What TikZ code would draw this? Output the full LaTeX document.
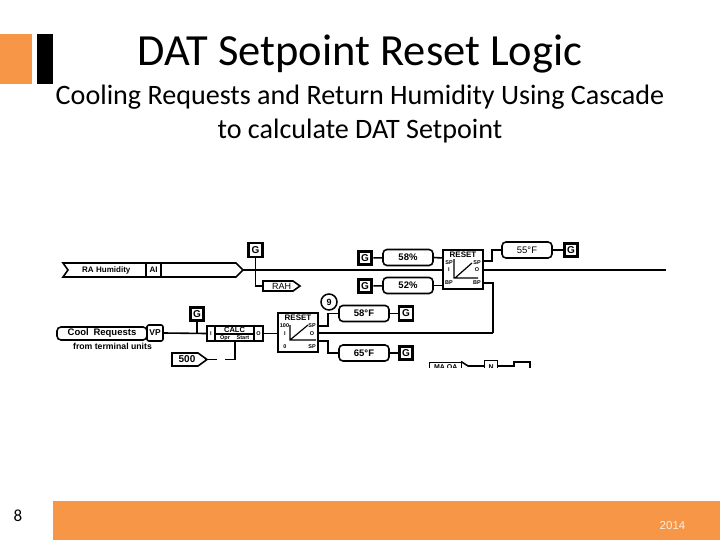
\documentclass[tikz,border=0pt]{standalone}
\usepackage{fontspec}
\setmainfont{Carlito}
\newfontfamily\diag{Liberation Sans}
\definecolor{accent}{HTML}{F79646}
\tikzset{
  x=1pt,y=-1pt,
  wire/.style={line width=1.6pt,black},
  heavy/.style={line width=2.2pt,black},
  tiny/.style={font=\diag\bfseries\fontsize{5.5}{5.5}\selectfont,inner sep=0pt},
  pill/.style={draw,line width=1.6pt,rounded corners=4pt,fill=white,minimum width=50pt,minimum height=16pt,inner sep=0pt,font=\diag\bfseries\fontsize{9.5}{10}\selectfont},
  gbox/.style={draw,line width=2.4pt,fill=white,minimum size=14pt,inner sep=0pt,font=\diag\bfseries\fontsize{10}{10}\selectfont},
  gdark/.style={gbox,line width=3.2pt,minimum size=13.5pt},
  tag/.style={draw,line width=1.6pt,fill=white,inner sep=0pt,font=\diag\bfseries\fontsize{8}{8}\selectfont},
  anchorbox/.style={inner sep=0pt,font=\diag\fontsize{9}{9}\selectfont},
  block/.style={draw,line width=2.2pt,fill=white,inner sep=0pt},
}
\begin{document}
\begin{tikzpicture}
\useasboundingbox (0,0) rectangle (720,540);
\fill[white] (0,0) rectangle (720,540);
% slide furniture
\fill[accent] (0,34) rectangle (32,84);
\fill[black] (37,34) rectangle (53,84);
\fill[accent] (53,501) rectangle (720,540);
\node[font=\fontsize{44.5}{46}\selectfont,inner sep=0pt] (title) at (360,54.5) {DAT Setpoint Reset Logic};
\node[font=\fontsize{28.1}{34}\selectfont,align=center,inner sep=0pt] (subtitle) at (360,114) {Cooling Requests and Return Humidity Using Cascade\\to calculate DAT Setpoint};
\node[font=\fontsize{17}{17}\selectfont,inner sep=0pt] (pageno) at (18,516) {8};
\node[font=\diag\fontsize{11.5}{12}\selectfont,text=white!85!accent,inner sep=0pt] (year) at (672.5,526) {2014};

% pentagon shapes
\draw[wire,fill=white] (63,263) -- (236,263) -- (243,270) -- (236,277) -- (63,277) -- (68,270) -- cycle;
\draw[wire,fill=white] (263,281) -- (293,281) -- (300,286) -- (293,291) -- (263,291) -- cycle;
\draw[wire,fill=white] (172,353) -- (198,353) -- (207,359.5) -- (198,366) -- (172,366) -- cycle;
\node[anchorbox,minimum width=180pt,minimum height=14pt,font=\diag\bfseries\fontsize{8}{8}\selectfont,text width=180pt] (ra) at (153,270) {\hspace{19pt}RA Humidity};
\node[anchorbox,minimum width=37pt,minimum height=10pt] (rah) at (281.5,286) {RAH};
\node[anchorbox,minimum width=35pt,minimum height=13pt,font=\diag\bfseries\fontsize{10}{8}\selectfont] (fivehundred) at (187,359.5) {\makebox[26pt]{500}\hspace{9pt}};

% cool requests
\node[draw,line width=1.6pt,rounded corners=4pt,fill=white,minimum width=90pt,minimum height=13pt,inner sep=0pt,font=\diag\bfseries\fontsize{9.5}{10}\selectfont] (cool) at (102,333.5) {Cool\enspace Requests};
\node[font=\diag\bfseries\fontsize{8.7}{9}\selectfont,inner sep=0pt] (terminal) at (112.5,346) {from terminal units};
\node[tag,minimum width=15pt,minimum height=14pt] (ai) at (153.5,270) {AI};
\node[tag,rounded corners=2pt,minimum width=16pt,minimum height=16pt,font=\diag\bfseries\fontsize{8.5}{8}\selectfont] (vp) at (155,333) {VP};

% G boxes
\node[gbox] (g1) at (255.5,250) {G};
\node[gdark] (g2) at (197,314) {G};
\node[gdark] (g3) at (365,258) {G};
\node[gdark] (g4) at (365,286) {G};
\node[gbox] (g5) at (406,313.5) {G};
\node[gdark] (g6) at (406,353) {G};
\node[gdark] (g7) at (571,250) {G};

% value pills
\node[pill] (p58) at (408,257.5) {58\%};
\node[pill] (p52) at (408,285.5) {52\%};
\node[pill] (f58) at (364,313.5) {58°F};
\node[pill] (f65) at (364,353) {65°F};
\node[pill,font=\diag\fontsize{9.5}{10}\selectfont] (f55) at (527,250) {55°F};
\node[draw,line width=1.5pt,circle,minimum size=16pt,inner sep=0pt,fill=white,font=\diag\bfseries\fontsize{9}{9}\selectfont] (nine) at (329,302) {9};

% CALC block
\node[block,minimum width=56pt,minimum height=15pt] (calc) at (235,333.5) {};
\draw[line width=1.4pt] (215,326) -- (215,341) (254,326) -- (254,341) (215,334) -- (254,334);
\node[tiny,font=\diag\bfseries\fontsize{7.5}{7}\selectfont] (calct) at (234.5,330) {CALC};
\node[tiny] (calco) at (225,338) {Opr};
\node[tiny] (calcs) at (243,338) {Start};
\node[tiny] (calci) at (211,334) {I};
\node[tiny] (calcq) at (258.5,333.5) {O};

% first RESET block
\node[block,minimum width=40pt,minimum height=39pt] (reset1) at (298,332.5) {};
\node[tiny,font=\diag\bfseries\fontsize{8}{8}\selectfont] (r1t) at (298,318) {RESET};
\draw[line width=1.2pt] (290,325) -- (290,340) -- (316,340) (290,340) -- (308,325);
\node[tiny] (r1a) at (284.5,326) {100};
\node[tiny] (r1b) at (285,333.5) {I};
\node[tiny] (r1c) at (285,347) {0};
\node[tiny] (r1d) at (312,326) {SP};
\node[tiny] (r1e) at (312,333.5) {O};
\node[tiny] (r1f) at (312,347) {SP};

% second RESET block
\node[block,minimum width=40pt,minimum height=39pt] (reset2) at (463,269.5) {};
\node[tiny,font=\diag\bfseries\fontsize{8}{8}\selectfont] (r2t) at (463,254.5) {RESET};
\draw[line width=1.2pt] (454,259) -- (454,278) -- (478,278) (455,278) -- (472,263);
\node[tiny] (r2a) at (449,262.5) {SP};
\node[tiny] (r2b) at (449,270) {I};
\node[tiny] (r2c) at (449,283) {BP};
\node[tiny] (r2d) at (477,262.5) {SP};
\node[tiny] (r2e) at (477,270) {O};
\node[tiny] (r2f) at (477,283) {BP};

% port coordinates
\coordinate (r2in) at (443,270);
\coordinate (r2sp) at (483,261);
\coordinate (r2o) at (483,270);
\coordinate (r2bp) at (483,283);
\coordinate (r2li) at (443,258);
\coordinate (r2lb) at (443,285.5);
\coordinate (r1sp) at (318,326);
\coordinate (r1o) at (318,333);
\coordinate (r1lo) at (318,341);
\coordinate (end) at (666,270);
\coordinate (calcb) at (235,341);
\coordinate (g1t) at (255.5,270);
\coordinate (vg) at (197,333);

% connectors
\draw[heavy] (ra.east) -- (r2in);
\draw[heavy] (r2o) -- (end);
\draw[wire] (g1) -- (g1t);
\draw[wire] (g1t) |- (rah.west);
\draw[wire] (g3) -- (p58);
\draw[wire] (g4) -- (p52);
\draw[wire] (p58.east) -- (r2li);
\draw[wire] (p52.east) -- (r2lb);
\draw[wire] (r2sp) -- (492,261) |- (f55.west);
\draw[wire] (f55) -- (g7);
\draw[wire] (vp.east) -- (calc.west);
\draw[wire] (g2) -- (vg);
\draw[wire] (calc.east) -- (reset1.west |- calc.east);
\draw[wire] (r1sp) -- (328,326) |- (f58.west);
\draw[wire] (r1lo) -- (328,341) |- (f65.west);
\draw[wire] (f58) -- (g5);
\draw[wire] (f65) -- (g6);
\draw[heavy] (r1o) -- (493,333);
\draw[wire] (493,333) |- (r2bp);
\draw[wire] (fivehundred.east) -- (217,359.5);
\draw[wire] (225,359.5) -| (calcb);

% diagram cut off at the bottom
\begin{scope}
\clip (425,355) rectangle (540,367);
\node[draw,line width=1.4pt,minimum width=32pt,minimum height=10pt,inner sep=0pt,font=\diag\bfseries\fontsize{7}{7}\selectfont,anchor=north west] (ma) at (429,361.5) {MA OA};
\draw[wire] (461,361.5) -- (468,366) -- (484,366);
\node[draw,line width=1.4pt,minimum width=13pt,minimum height=14pt,inner sep=0pt,font=\diag\bfseries\fontsize{7}{7}\selectfont,anchor=north west] (nbox) at (484,359.5) {N};
\draw[wire] (nbox.east |- 0,366) -- (514,366) -- (514,362) -- (530,362) -- (530,370);
\end{scope}
\end{tikzpicture}
\end{document}
